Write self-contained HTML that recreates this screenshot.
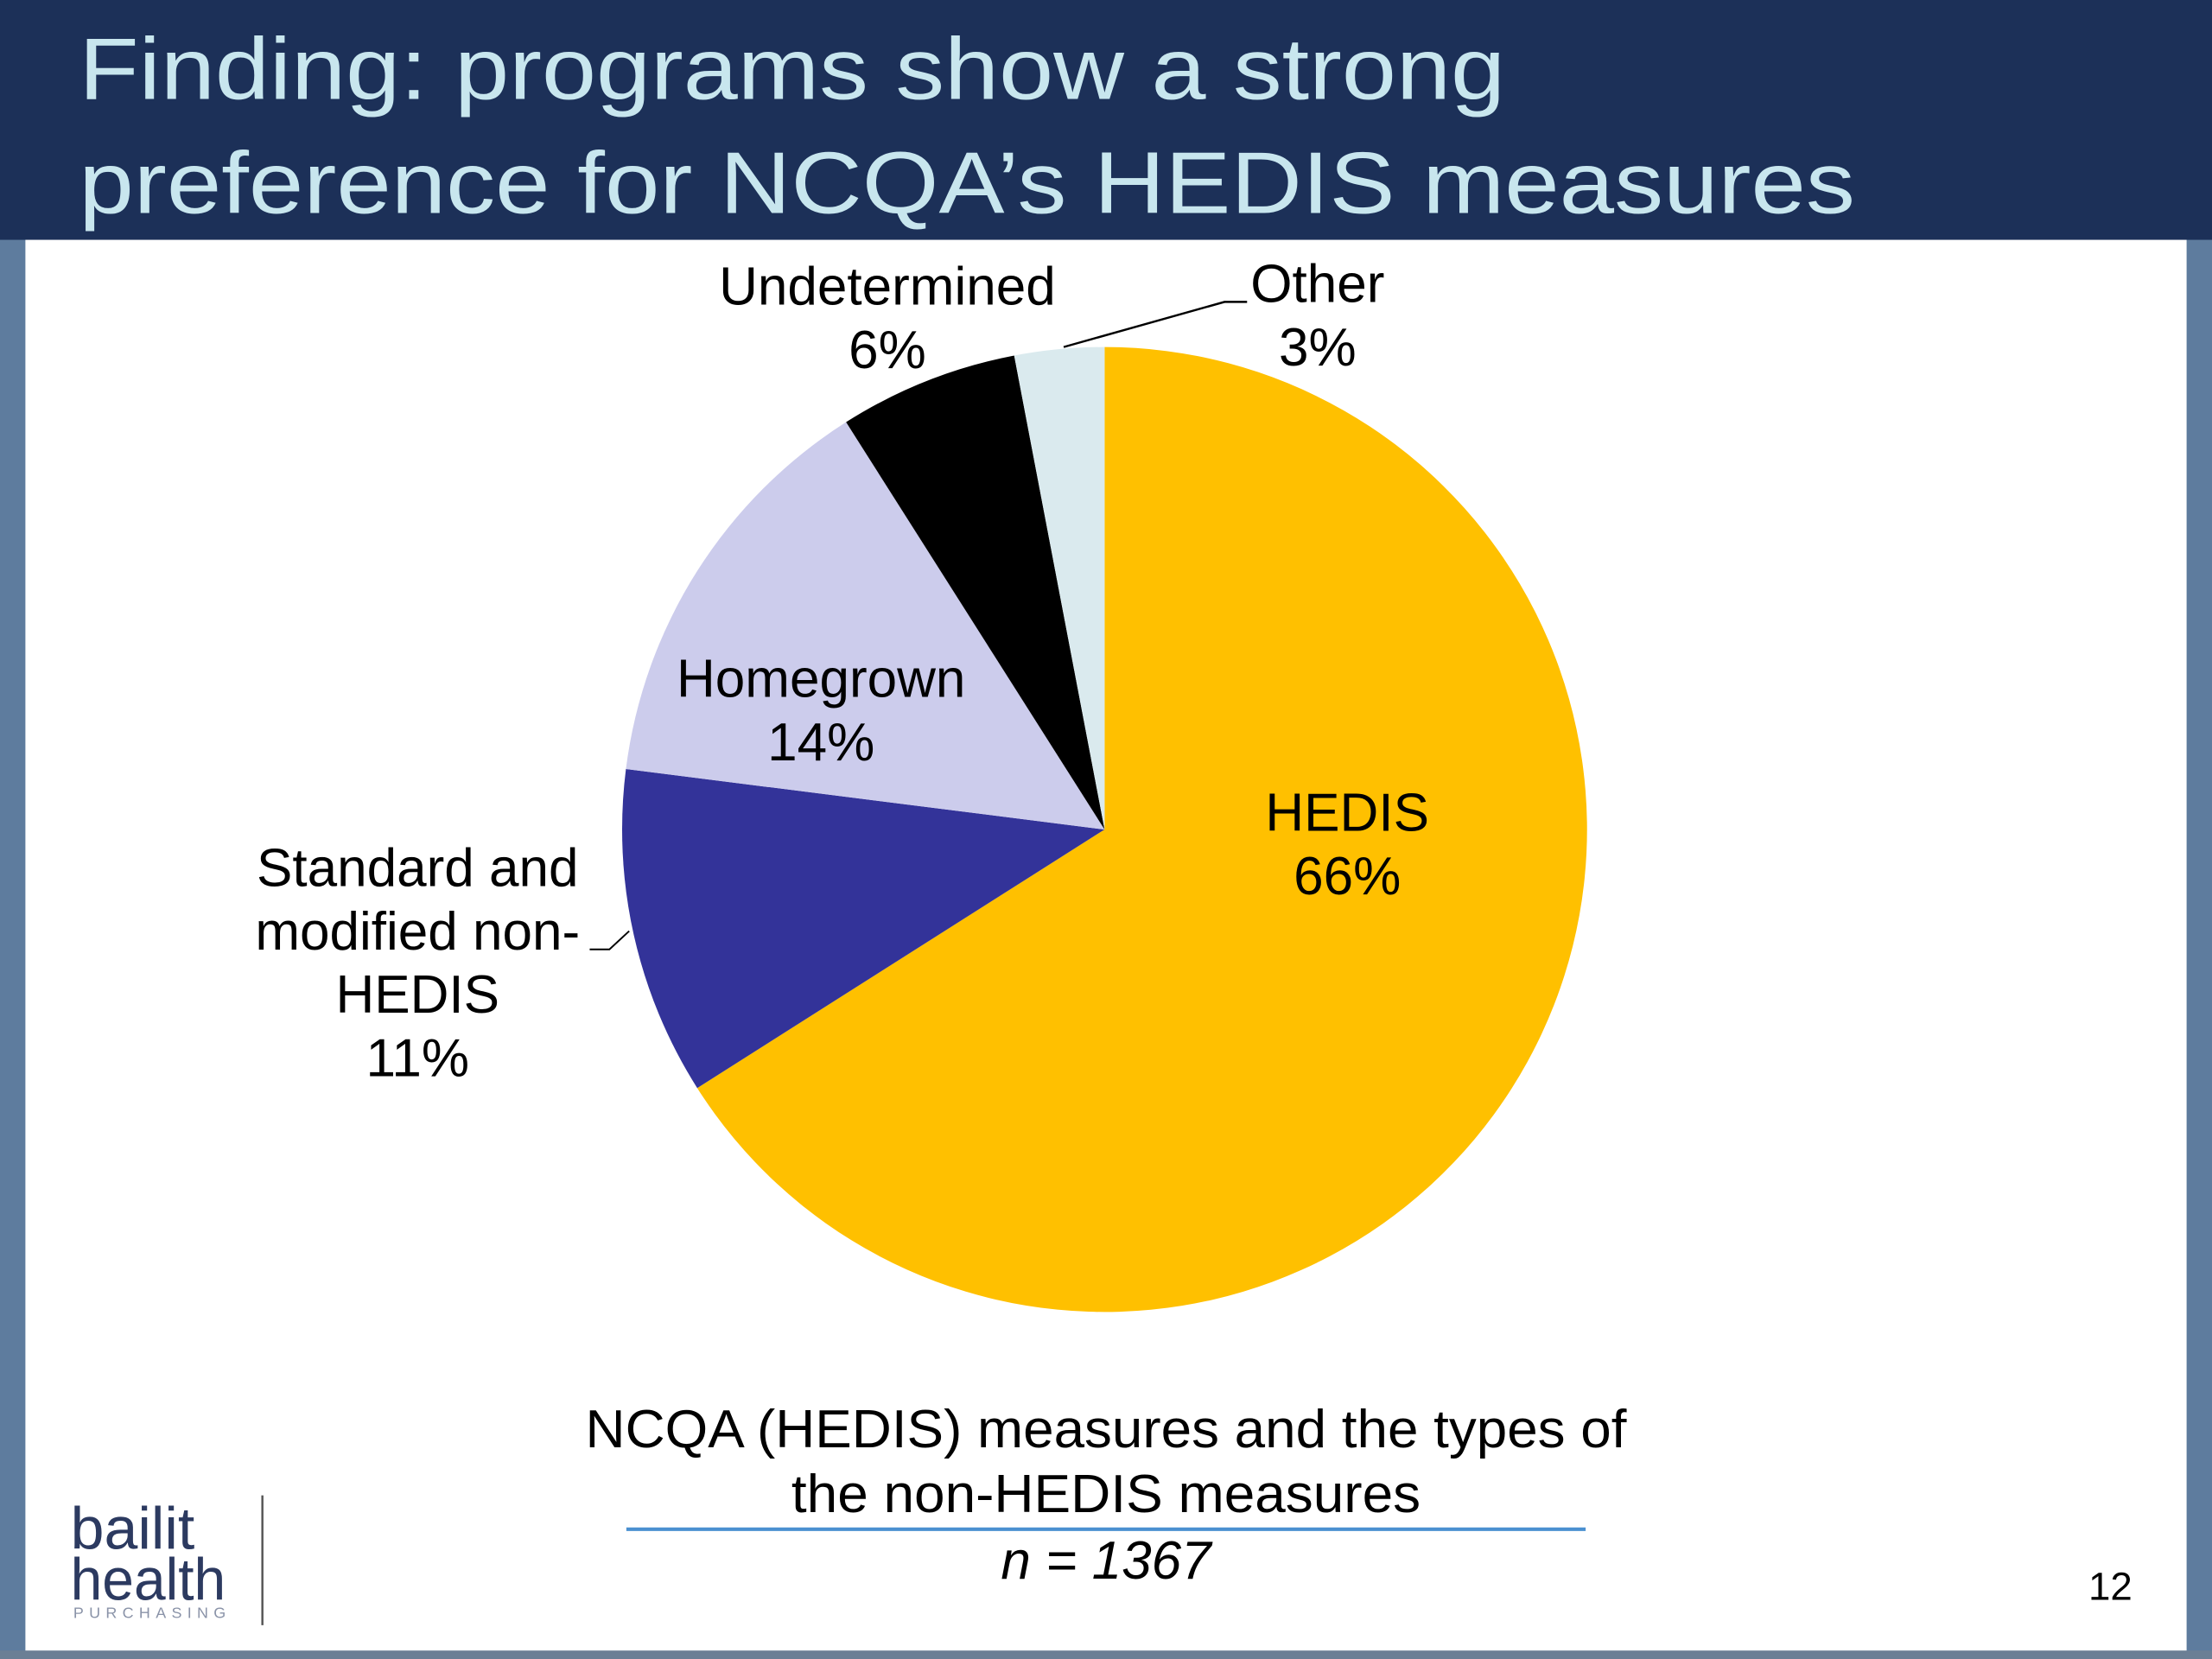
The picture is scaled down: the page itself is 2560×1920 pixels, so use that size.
<!DOCTYPE html>
<html><head><meta charset="utf-8">
<style>html,body{margin:0;padding:0;background:#fff}svg{display:block}text{font-family:"Liberation Sans",sans-serif}</style>
</head><body>
<svg id="chart" width="2560" height="1920" viewBox="0 0 1568 1176" xmlns="http://www.w3.org/2000/svg">
<rect x="0" y="0" width="1568" height="1176" fill="#ffffff"/>
<rect x="0" y="160" width="18" height="1016" fill="#5e7c9e"/>
<rect x="1550" y="160" width="18" height="1016" fill="#5e7c9e"/>
<rect x="0" y="1170" width="1568" height="6" fill="#6b7f95"/>
<rect x="0" y="0" width="1568" height="170" fill="#1c3058"/>
<text x="56" y="70" font-size="62" fill="#c8e6ee" textLength="1011" lengthAdjust="spacingAndGlyphs">Finding: programs show a strong</text>
<text x="56" y="151" font-size="62" fill="#c8e6ee" textLength="1259" lengthAdjust="spacingAndGlyphs">preference for NCQA’s HEDIS measures</text>
<g id="pie"></g>
<g font-size="38" fill="#000" text-anchor="middle">
<text x="955" y="589">HEDIS</text>
<text x="955" y="634">66%</text>
<text x="296" y="628">Standard and</text>
<text x="296" y="673">modified non-</text>
<text x="296" y="718">HEDIS</text>
<text x="296" y="763">11%</text>
<text x="582" y="494">Homegrown</text>
<text x="582" y="539">14%</text>
<text x="629" y="216">Undetermined</text>
<text x="629" y="261">6%</text>
<text x="934" y="214">Other</text>
<text x="934" y="259">3%</text>
</g>
<polyline points="754,246 868,214 884,214" fill="none" stroke="#000" stroke-width="1.5"/>
<polyline points="418,673 432,673 446,660" fill="none" stroke="#000" stroke-width="1.2"/>
<text x="784" y="1026" font-size="38" text-anchor="middle" textLength="738" lengthAdjust="spacingAndGlyphs">NCQA (HEDIS) measures and the types of</text>
<text x="784" y="1072" font-size="38" text-anchor="middle" textLength="446" lengthAdjust="spacingAndGlyphs">the non-HEDIS measures</text>
<line x1="444" y1="1084" x2="1124" y2="1084" stroke="#4a90d0" stroke-width="2.5"/>
<text x="784" y="1119" font-size="38" font-style="italic" text-anchor="middle">n = 1367</text>
<text x="1496" y="1134" font-size="28" text-anchor="middle">12</text>
<g>
<text x="50" y="1098" font-size="42" fill="#2c3a60" textLength="88" lengthAdjust="spacingAndGlyphs">bailit</text>
<text x="50" y="1134" font-size="42" fill="#2c3a60" textLength="110" lengthAdjust="spacingAndGlyphs">health</text>
<text x="52" y="1147" font-size="11" fill="#8a93a8" textLength="108" lengthAdjust="spacing">PURCHASING</text>
<line x1="186" y1="1060" x2="186" y2="1152" stroke="#555" stroke-width="1.5"/>
</g>
</svg>
<script>
const categories = ["HEDIS", "Standard and modified non-HEDIS", "Homegrown", "Undetermined", "Other"];
const values = [66, 11, 14, 6, 3];
const colors = ["#ffc000", "#333399", "#ccccec", "#000000", "#daeaee"];
const cx = 783, cy = 588, r = 342;
const total = values.reduce((a, b) => a + b, 0);
function pt(frac) {
  const a = frac * 2 * Math.PI;
  return [cx + r * Math.sin(a), cy - r * Math.cos(a)];
}
const g = document.getElementById('pie');
let acc = 0;
values.forEach((v, i) => {
  const f0 = acc / total, f1 = (acc + v) / total;
  acc += v;
  const [x0, y0] = pt(f0), [x1, y1] = pt(f1);
  const large = (f1 - f0) > 0.5 ? 1 : 0;
  const p = document.createElementNS('http://www.w3.org/2000/svg', 'path');
  p.setAttribute('d', `M${cx},${cy} L${x0},${y0} A${r},${r} 0 ${large} 1 ${x1},${y1} Z`);
  p.setAttribute('fill', colors[i]);
  
  
  g.appendChild(p);
});
</script>
</body></html>
